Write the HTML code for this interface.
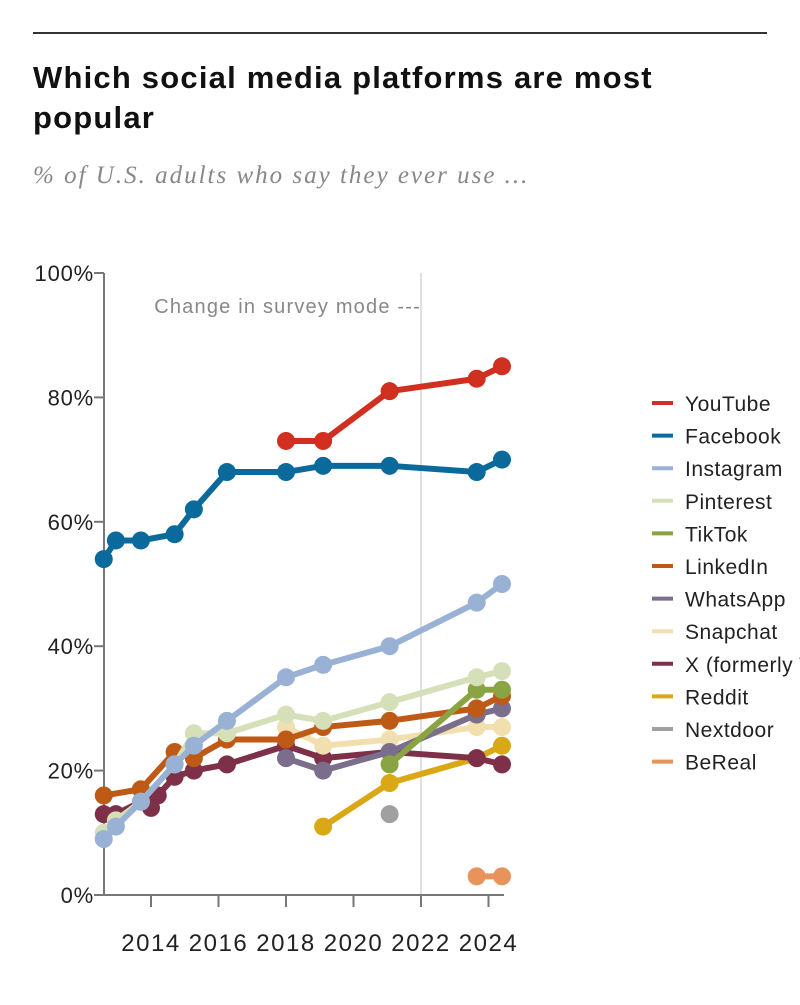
<!DOCTYPE html>
<html><head><meta charset="utf-8"><style>
body{margin:0;background:#fff;width:800px;height:1000px;overflow:hidden;font-family:"Liberation Sans",sans-serif}
</style></head><body>
<svg width="800" height="1000" xmlns="http://www.w3.org/2000/svg">
<line x1="33" y1="33" x2="767" y2="33" stroke="#333" stroke-width="2"/>
<text x="33" y="88" font-size="31" font-weight="bold" fill="#111" letter-spacing="1.2">Which social media platforms are most</text>
<text x="33" y="128" font-size="31" font-weight="bold" fill="#111" letter-spacing="1.2">popular</text>
<text x="33" y="183" font-size="25" font-style="italic" fill="#888" letter-spacing="2" font-family="Liberation Serif, serif">% of U.S. adults who say they ever use ...</text>
<g id="plot"></g>
<g id="legend"></g>
</svg>
<script>
const years=[2014,2016,2018,2020,2022,2024];
const yTicks=[0,20,40,60,80,100];
const names=["YouTube","Facebook","Instagram","Pinterest","TikTok","LinkedIn","WhatsApp","Snapchat","X (formerly Twitter)","Reddit","Nextdoor","BeReal"];
const colors=["#d12f1f","#0b6a9c","#98b1d4","#d5dfb8","#8ba443","#bf5a16","#7b6e8c","#f2dfb0","#7e3049","#d9a814","#a0a0a0","#e8925c"];
const dYouTube=[[2018,73],[2019.1,73],[2021.07,81],[2023.65,83],[2024.4,85]];
const dFacebook=[[2012.6,54],[2012.96,57],[2013.7,57],[2014.7,58],[2015.27,62],[2016.25,68],[2018,68],[2019.1,69],[2021.07,69],[2023.65,68],[2024.4,70]];
const dInstagram=[[2012.6,9],[2012.96,11],[2013.7,15],[2014.7,21],[2015.27,24],[2016.25,28],[2018,35],[2019.1,37],[2021.07,40],[2023.65,47],[2024.4,50]];
const dPinterest=[[2012.6,10],[2012.96,12],[2013.7,15],[2014.7,21],[2015.27,26],[2016.25,26],[2018,29],[2019.1,28],[2021.07,31],[2023.65,35],[2024.4,36]];
const dTikTok=[[2021.07,21],[2023.65,33],[2024.4,33]];
const dLinkedIn=[[2012.6,16],[2013.7,17],[2014.7,23],[2015.27,22],[2016.25,25],[2018,25],[2019.1,27],[2021.07,28],[2023.65,30],[2024.4,32]];
const dWhatsApp=[[2018,22],[2019.1,20],[2021.07,23],[2023.65,29],[2024.4,30]];
const dSnapchat=[[2018,27],[2019.1,24],[2021.07,25],[2023.65,27],[2024.4,27]];
const dX=[[2012.6,13],[2012.96,13],[2013.7,15],[2014.0,14],[2014.2,16],[2014.7,19],[2015.27,20],[2016.25,21],[2018,24],[2019.1,22],[2021.07,23],[2023.65,22],[2024.4,21]];
const dReddit=[[2019.1,11],[2021.07,18],[2023.65,22],[2024.4,24]];
const dNextdoor=[[2021.07,13]];
const dBeReal=[[2023.65,3],[2024.4,3]];
const series=[dYouTube,dFacebook,dInstagram,dPinterest,dTikTok,dLinkedIn,dWhatsApp,dSnapchat,dX,dReddit,dNextdoor,dBeReal];
const NS="http://www.w3.org/2000/svg";
const xS=v=>151+(v-2014)*33.75;
const yS=v=>895-v*6.22;
const plot=document.getElementById('plot');
function mk(tag,attrs,parent){const e=document.createElementNS(NS,tag);for(const k in attrs)e.setAttribute(k,attrs[k]);parent.appendChild(e);return e;}
let cl=mk('line',{x1:421,y1:273,x2:421,y2:895,stroke:'#ccc','stroke-width':1.2},plot);


let ct=mk('text',{x:421,y:313,'text-anchor':'end','font-size':20,fill:'#888','letter-spacing':1.2},plot);ct.textContent='Change in survey mode ---';


let ya=mk('line',{x1:104,y1:273,x2:104,y2:895,stroke:'#777','stroke-width':2},plot);


let xa=mk('line',{x1:94,y1:895,x2:504,y2:895,stroke:'#777','stroke-width':2},plot);


yTicks.forEach(t=>{
 const tk=mk('line',{x1:94,y1:yS(t),x2:104,y2:yS(t),stroke:'#777','stroke-width':2},plot);
 
 
 const lb=mk('text',{x:94,y:yS(t)+8,'text-anchor':'end','font-size':22,fill:'#222','letter-spacing':0.8},plot);lb.textContent=t+'%';
 
 
});
years.forEach(y=>{
 const tk=mk('line',{x1:xS(y),y1:895,x2:xS(y),y2:907,stroke:'#777','stroke-width':2},plot);
 
 
 const lb=mk('text',{x:xS(y),y:951,'text-anchor':'middle','font-size':24,fill:'#222','letter-spacing':1.5},plot);lb.textContent=y;
 
 
});
for(let i=series.length-1;i>=0;i--){
 const g=mk('g',{},plot);
 
 
 const d=series[i];
 if(d.length>1){
  const pl=mk('polyline',{points:d.map(p=>xS(p[0])+','+yS(p[1])).join(' '),fill:'none',stroke:colors[i],'stroke-width':6,'stroke-linejoin':'round'},g);
  
  
 }
 d.forEach(p=>{
  const c=mk('circle',{cx:xS(p[0]),cy:yS(p[1]),r:9,fill:colors[i]},g);
  
  
 });
}
const lg=document.getElementById('legend');
names.forEach((n,i)=>{
 const y=403+i*32.6;
 const g=mk('g',{},lg);
 
 
 mk('line',{x1:652,y1:y,x2:673,y2:y,stroke:colors[i],'stroke-width':4},g);
 const t=mk('text',{x:685,y:y+8,'font-size':21,fill:'#222','letter-spacing':0.5},g);t.textContent=n;
});
</script>
</body></html>
